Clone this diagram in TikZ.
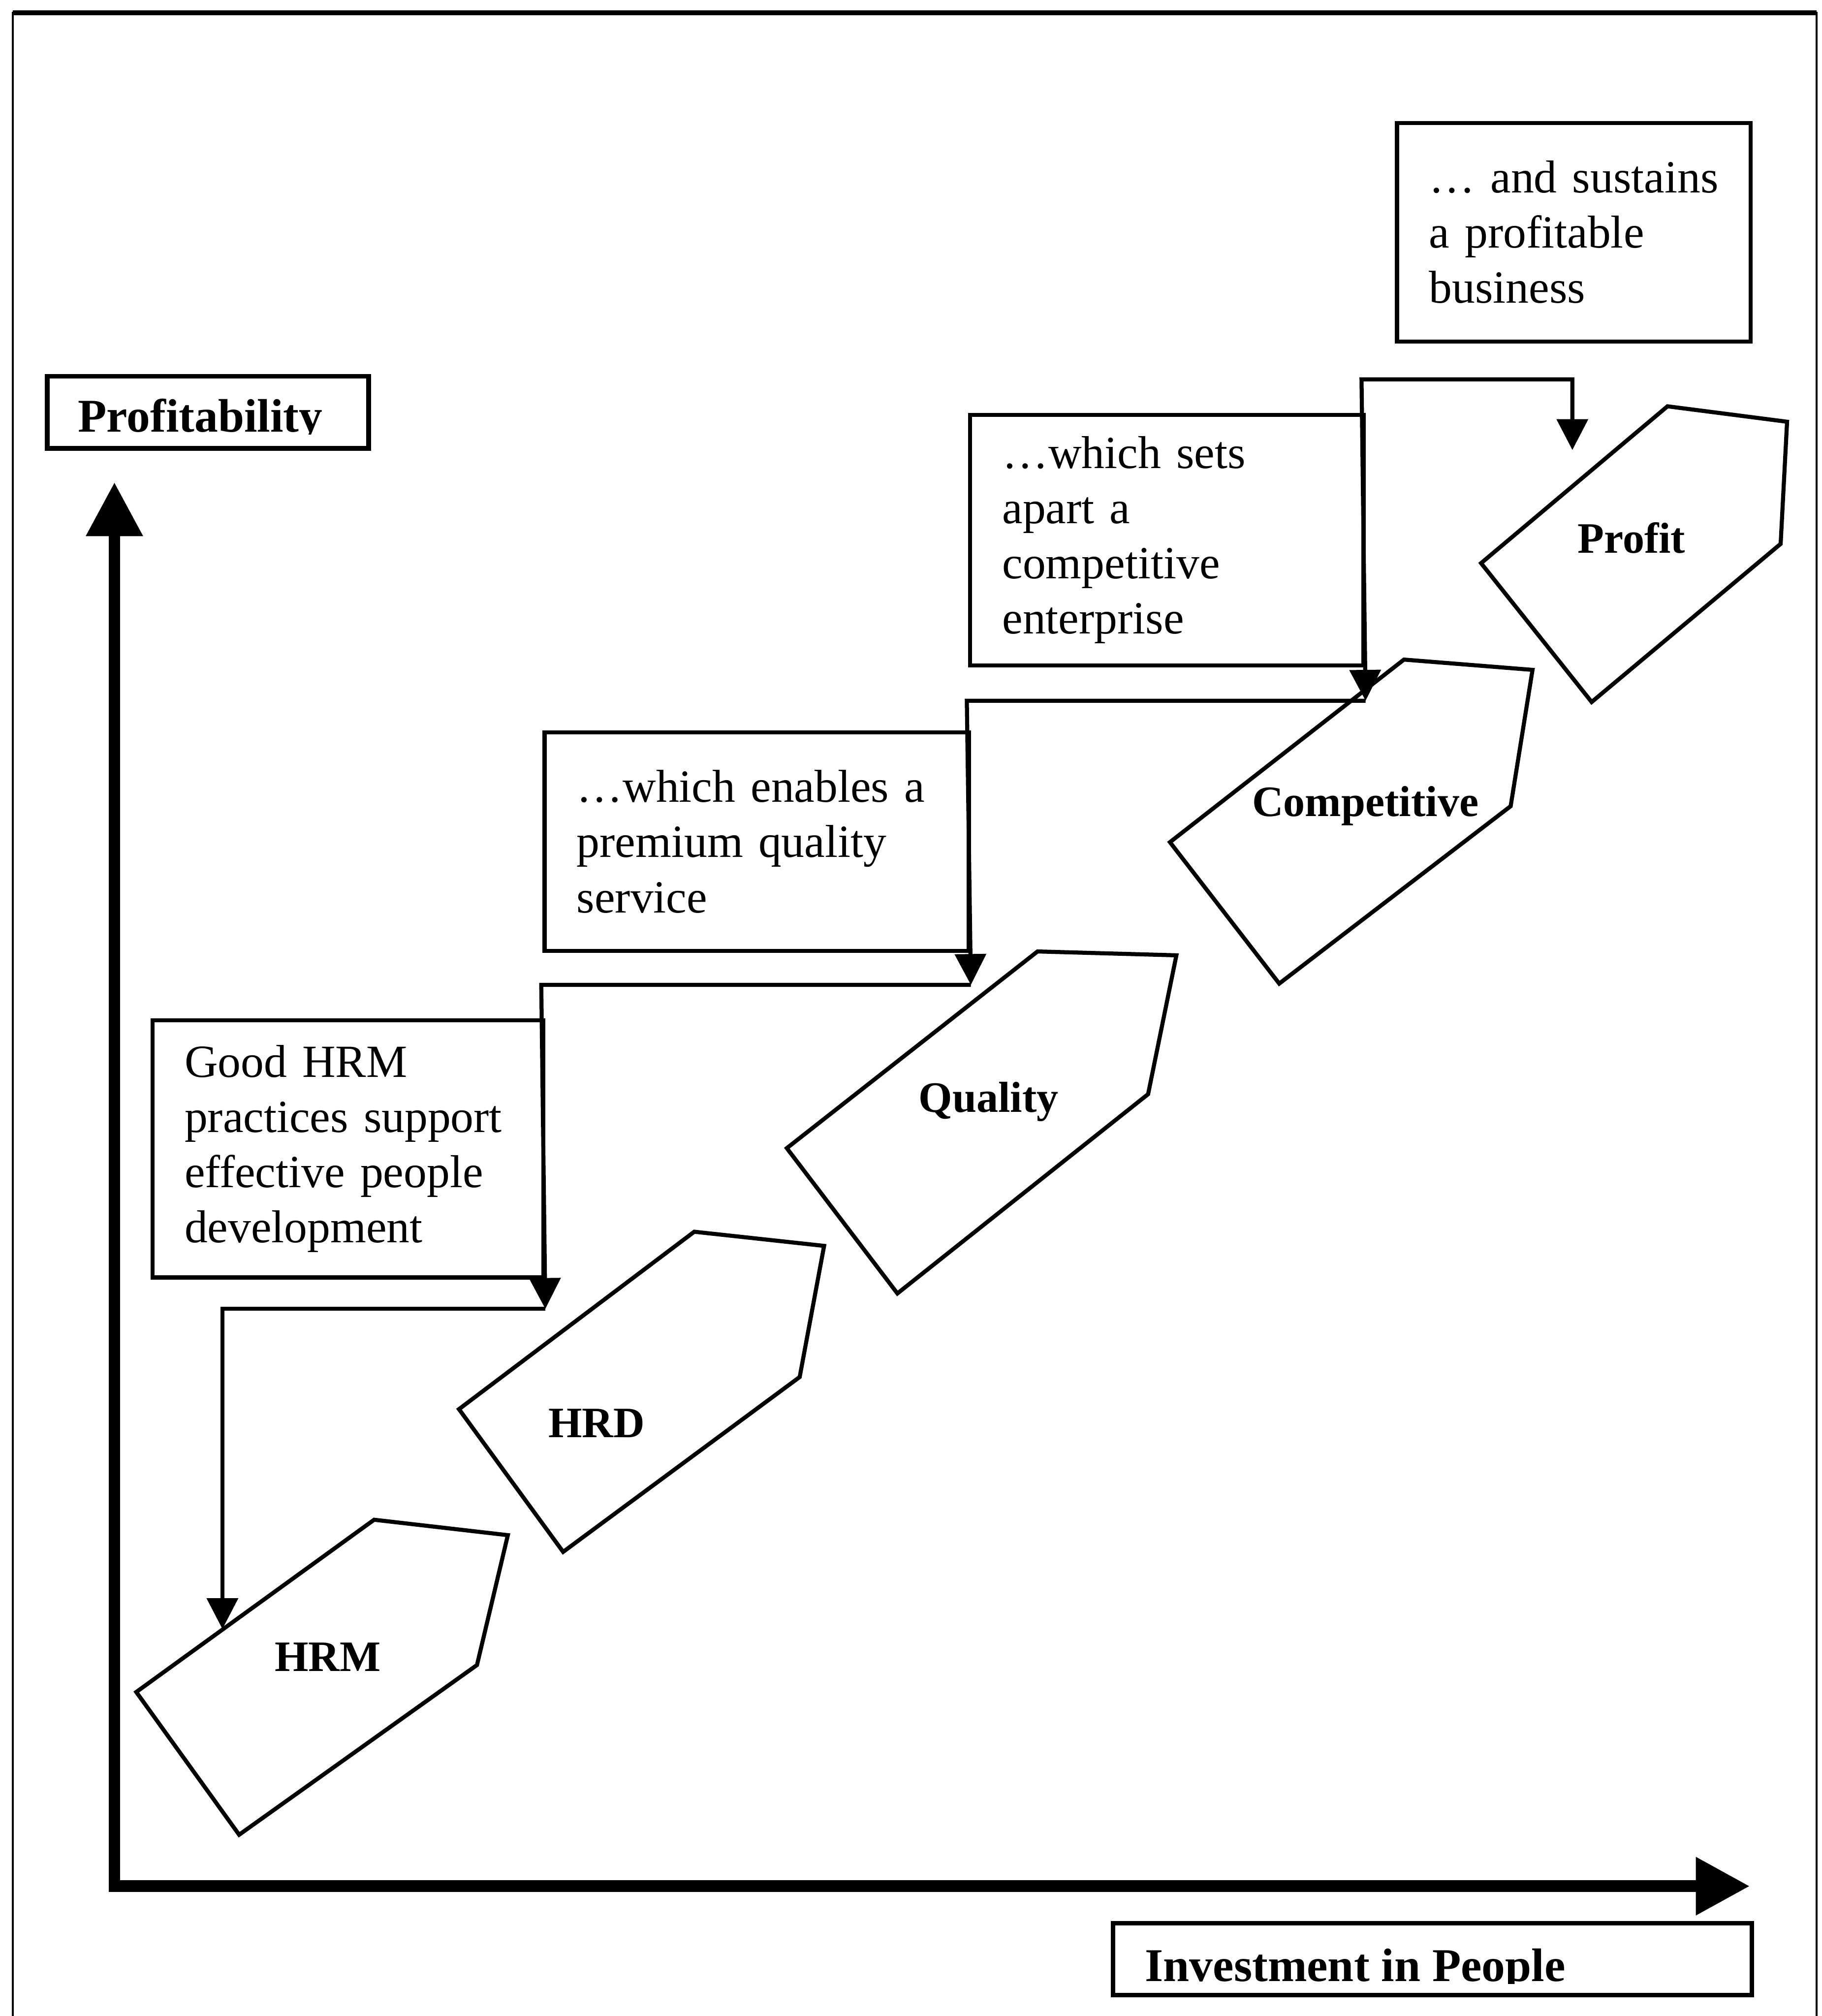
\documentclass[tikz,border=0pt]{standalone}
\usepackage{fontspec}
\setmainfont{Liberation Serif}
\usetikzlibrary{arrows.meta}

\begin{document}
\begin{tikzpicture}[x=0.1mm, y=-0.1mm,
    note/.style={draw, line width=0.9pt, anchor=north west, align=left,
      inner xsep=2.5mm, font=\fontsize{10.2}{12.2}\selectfont},
    stage/.style={line width=0.9pt, line join=miter},
    stagelabel/.style={anchor=base, inner sep=0pt, font=\fontsize{9.6}{11}\selectfont\bfseries},
    axisbox/.style={draw, line width=1pt, anchor=north west},
    axislabel/.style={anchor=base west, inner sep=0pt, font=\fontsize{10.4}{12}\selectfont\bfseries},
    link/.style={line width=0.9pt, -{Triangle[length=2.4mm, width=2.4mm]}},
    axis/.style={line width=0.9mm,
      {Triangle[length=4.2mm, width=4.2mm]}-{Triangle[length=4.2mm, width=4.3mm]}}]
  \useasboundingbox (0,0) rectangle (1417,1568);

  % --- page frame (open at the bottom) ---
  \draw[line width=0.45pt] (10,1568) -- (10,10) -- (1413,10) -- (1413,1568);
  \draw[line width=1.1pt] (10,10) -- (1413,10);

  % --- axes ---
  \coordinate (origin) at (89,1467);
  \coordinate (ytip) at (89,375);
  \coordinate (xtip) at (1361,1467);
  \draw[axis] (ytip) -- (origin) -- (xtip);

  % axis labels (text cut at the baseline, as printed)
  \node[axisbox, minimum width=25mm, minimum height=5.6mm] (profitbox) at (35,291) {};
  \begin{scope}
    \clip (35,291) rectangle (285,338);
    \node[axislabel] (profitlabel) at (60,336) {Profitability};
  \end{scope}
  \node[axisbox, minimum width=49.7mm, minimum height=5.6mm] (peoplebox) at (864,1494) {};
  \begin{scope}
    \clip (864,1494) rectangle (1361,1543);
    \node[axislabel] (peoplelabel) at (890,1541) {Investment in People};
  \end{scope}

  % --- stages ---
  % HRM
  \draw[stage] (106,1316) -- (291,1182) -- (395,1194) -- (371,1295) -- (186,1427) -- cycle;
  \node[stagelabel] (hrm) at (255,1300) {HRM};
  % HRD
  \draw[stage] (357,1096) -- (540,958) -- (641,969) -- (622,1071) -- (438,1207) -- cycle;
  \node[stagelabel] (hrd) at (464,1118) {HRD};
  % Quality
  \draw[stage] (612,893) -- (807,740) -- (915,743) -- (893,851) -- (698,1006) -- cycle;
  \node[stagelabel] (quality) at (769,865) {Quality};
  % Competitive
  \draw[stage] (910,655) -- (1092,513) -- (1192,521) -- (1175,627) -- (995,765) -- cycle;
  \node[stagelabel] (competitive) at (1062,635) {Competitive};
  % Profit
  \draw[stage] (1152,438) -- (1297,316) -- (1390,328) -- (1385,423) -- (1238,546) -- cycle;
  \node[stagelabel] (profit) at (1269,430) {Profit};

  % --- notes ---
  \node[note, text width=25.4mm, minimum height=20mm] (hrmnote) at (117,792)
    {\mbox{Good HRM}\\\mbox{practices support}\\\mbox{effective people}\\\mbox{development}};
  \node[note, text width=28mm, minimum height=17mm] (qualnote) at (422,568)
    {\mbox{…which enables a}\\\mbox{premium quality}\\\mbox{service}};
  \node[note, text width=25.6mm, minimum height=19.5mm] (compnote) at (753,321)
    {\mbox{…which sets}\\\mbox{apart a}\\\mbox{competitive}\\\mbox{enterprise}};
  \node[note, text width=22.5mm, minimum height=17mm] (profnote) at (1085,94)
    {\mbox{… and sustains}\\\mbox{a profitable}\\\mbox{business}};

  % --- connectors ---
  \coordinate (hrmturn) at (173,1018);
  \coordinate (hrmtip) at (173,1267);
  \coordinate (qualturn) at (421,766);
  \coordinate (compturn) at (752,545);
  \coordinate (profturn) at (1059,295);
  \coordinate (profdrop) at (1223,295);
  \coordinate (proftip) at (1223,350);
  \draw[link] (hrmnote.east |- hrmturn) -- (hrmturn) -- (hrmtip);
  \draw[link] (qualnote.east |- qualturn) -- (qualturn) -- (hrmnote.east |- hrmturn);
  \draw[link] (compnote.east |- compturn) -- (compturn) -- (qualnote.east |- qualturn);
  \draw[link, {Triangle[length=2.4mm, width=2.4mm]}-{Triangle[length=2.4mm, width=2.4mm]}]
    (compnote.east |- compturn) -- (profturn) -- (profdrop) -- (proftip);
\end{tikzpicture}
\end{document}
